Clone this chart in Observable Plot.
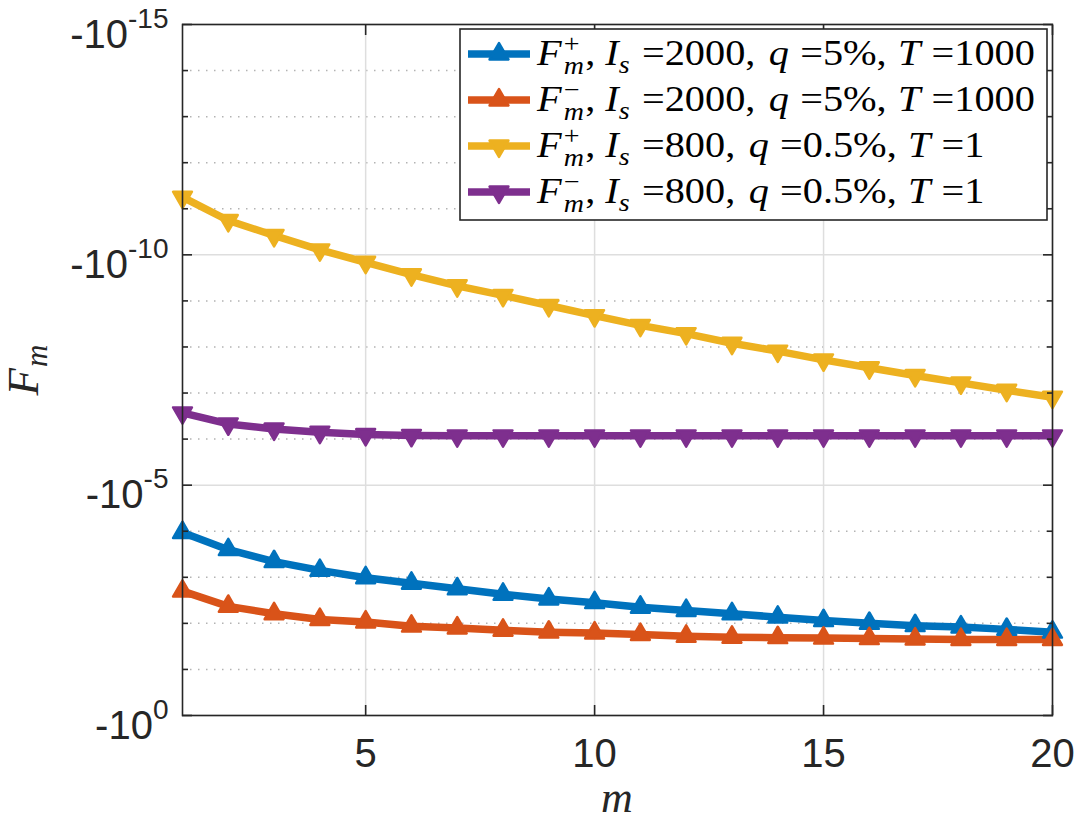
<!DOCTYPE html>
<html>
<head>
<meta charset="utf-8">
<script src="https://cdn.jsdelivr.net/npm/d3@7"></script>
<script src="https://cdn.jsdelivr.net/npm/@observablehq/plot@0.6"></script>
<style>
  html, body { margin: 0; padding: 0; background: #fff; }
  #chart svg { display: block; }
</style>
</head>
<body>
<div id="chart"></div>
<script>
// ---------- data ----------
const mValues = [1,2,3,4,5,6,7,8,9,10,11,12,13,14,15,16,17,18,19,20];

// F_m^+, I_s=2000, q=5%, T=1000
const FPlus2000 = [-1.07e-4,-2.51e-4,-4.57e-4,-7.08e-4,-1.02e-3,-1.35e-3,-1.78e-3,-2.34e-3,-2.95e-3,-3.55e-3,
                   -4.47e-3,-5.25e-3,-6.17e-3,-7.33e-3,-8.71e-3,-1.00e-2,-1.12e-2,-1.20e-2,-1.35e-2,-1.55e-2];
// F_m^-, I_s=2000, q=5%, T=1000
const FMinus2000 = [-2.00e-3,-4.27e-3,-6.17e-3,-8.22e-3,-9.33e-3,-1.15e-2,-1.26e-2,-1.41e-2,-1.55e-2,-1.62e-2,
                    -1.74e-2,-1.91e-2,-2.00e-2,-2.04e-2,-2.09e-2,-2.14e-2,-2.19e-2,-2.24e-2,-2.24e-2,-2.24e-2];
// F_m^+, I_s=800, q=0.5%, T=1
const FPlus800 = [-5.6e-12,-1.8e-11,-3.8e-11,-7.8e-11,-1.45e-10,-2.7e-10,-4.7e-10,-7.6e-10,-1.26e-9,-2.09e-9,
                  -3.39e-9,-5.13e-9,-8.32e-9,-1.23e-8,-1.91e-8,-2.82e-8,-4.17e-8,-6.03e-8,-8.71e-8,-1.23e-7];
// F_m^-, I_s=800, q=0.5%, T=1
const FMinus800 = [-2.69e-7,-4.68e-7,-6.03e-7,-7.08e-7,-7.94e-7,-8.32e-7,-8.5e-7,-8.5e-7,-8.5e-7,-8.5e-7,
                   -8.5e-7,-8.5e-7,-8.5e-7,-8.5e-7,-8.5e-7,-8.5e-7,-8.5e-7,-8.5e-7,-8.5e-7,-8.5e-7];

const xTicks = [5, 10, 15, 20];
const yMajorTicks = [1e-15, 1e-10, 1e-5, 1];
const yMinorTicks = [1e-14,1e-13,1e-12,1e-11,1e-9,1e-8,1e-7,1e-6,1e-4,1e-3,1e-2,1e-1];

const legendSign = ["+", "\u2212", "+", "\u2212"];
const legendIs = ["2000", "2000", "800", "800"];
const legendQ = ["5%", "5%", "0.5%", "0.5%"];
const legendT = ["1000", "1000", "1", "1"];

const seriesColors = ["#0072BD", "#D95319", "#EDB120", "#7E2F8E"];
const seriesValues = [FPlus2000, FMinus2000, FPlus800, FMinus800];

// ---------- symbols ----------
const sqrt3 = Math.sqrt(3);
const triangleDown = {
  draw(context, size) {
    const y = Math.sqrt(size / (sqrt3 * 3));
    context.moveTo(0, 2 * y);
    context.lineTo(-sqrt3 * y, -y);
    context.lineTo(sqrt3 * y, -y);
    context.closePath();
  }
};
const seriesSymbols = [d3.symbolTriangle, d3.symbolTriangle, triangleDown, triangleDown];

const series = seriesValues.map((vals, k) => ({
  key: k,
  color: seriesColors[k],
  symbol: seriesSymbols[k],
  rows: vals.map((F, i) => ({m: mValues[i], F, key: k}))
}));

const axisColor = "#262626";
const sansFont = "'Liberation Sans', Arial, Helvetica, sans-serif";
const serifFont = "'Liberation Serif', 'Times New Roman', serif";
const markerR = 7;

const plot = Plot.plot({
  width: 1076,
  height: 820,
  marginLeft: 182,
  marginRight: 24,
  marginTop: 24,
  marginBottom: 105,
  style: {fontFamily: sansFont, color: axisColor, background: "white", overflow: "visible"},
  x: {domain: [1, 20]},
  y: {type: "log", domain: [1e-15, 1], reverse: true},
  marks: [
    Plot.gridY(yMinorTicks, {stroke: "#b3b3b3", strokeOpacity: 1, strokeWidth: 1.5, strokeDasharray: "1.5,6.5"}),
    Plot.gridY(yMajorTicks, {stroke: "#dedede", strokeOpacity: 1, strokeWidth: 1.5}),
    Plot.gridX(xTicks, {stroke: "#dedede", strokeOpacity: 1, strokeWidth: 1.5}),
    ...series.map(s => Plot.line(s.rows, {x: "m", y: d => -d.F, stroke: s.color, strokeWidth: 7.5, strokeLinejoin: "round"})),
    ...series.map(s => Plot.dot(s.rows, {x: "m", y: d => -d.F, symbol: s.symbol, r: markerR, fill: s.color, stroke: s.color, strokeWidth: 2.5, strokeLinejoin: "round"})),
    Plot.frame({stroke: axisColor, strokeWidth: 1.6}),
    Plot.axisX(xTicks, {anchor: "bottom", tickSize: 0, tickPadding: 23, fontSize: 40, label: null, fill: axisColor}),
    Plot.axisX(xTicks, {anchor: "bottom", tickSize: -10, fill: "none", label: null, stroke: axisColor, strokeWidth: 1.6}),
    Plot.axisX(xTicks, {anchor: "top", tickSize: -10, fill: "none", label: null, stroke: axisColor, strokeWidth: 1.6}),
    Plot.axisY(yMajorTicks, {anchor: "left", tickSize: 0, tickPadding: 14, fontSize: 40, label: null, fill: axisColor,
                             tickFormat: d => String(Math.round(Math.log10(d)))}),
    Plot.axisY(yMajorTicks, {anchor: "left", tickSize: -10, fill: "none", label: null, stroke: axisColor, strokeWidth: 1.6}),
    Plot.axisY(yMajorTicks, {anchor: "right", tickSize: -10, fill: "none", label: null, stroke: axisColor, strokeWidth: 1.6}),
    Plot.axisY(yMinorTicks, {anchor: "left", tickSize: -6, fill: "none", label: null, stroke: axisColor, strokeWidth: 1.6}),
    Plot.axisY(yMinorTicks, {anchor: "right", tickSize: -6, fill: "none", label: null, stroke: axisColor, strokeWidth: 1.6})
  ]
});

document.getElementById("chart").appendChild(plot);
const svg = d3.select(plot);

// ---------- y tick labels as -10^k with real superscripts ----------
svg.selectAll('g[aria-label="y-axis tick label"] text').each(function() {
  const exp = this.textContent;
  const t = d3.select(this);
  t.text(null).attr("y", 23);
  t.append("tspan").text("-10");
  t.append("tspan").attr("font-size", 28).attr("dy", -20).text(exp);
});

// ---------- axis labels ----------
svg.append("text")
  .attr("x", 617).attr("y", 812)
  .attr("text-anchor", "middle")
  .attr("font-family", serifFont).attr("font-style", "italic").attr("font-size", 44)
  .attr("fill", axisColor)
  .text("m");

const yl = svg.append("text")
  .attr("transform", "translate(38,370) rotate(-90)")
  .attr("text-anchor", "middle")
  .attr("font-family", serifFont).attr("font-size", 45)
  .attr("fill", axisColor);
yl.append("tspan").attr("font-style", "italic").text("F");
yl.append("tspan").attr("font-style", "italic").attr("font-size", 31).attr("dy", 9).attr("dx", 1).text("m");

// ---------- legend ----------
const lg = svg.append("g").attr("class", "legend").attr("text-anchor", "start");
lg.append("rect")
  .attr("x", 460).attr("y", 29).attr("width", 587).attr("height", 191)
  .attr("fill", "white").attr("stroke", axisColor).attr("stroke-width", 1.6);

const rowY = [54, 100, 146, 192];
const textX = 537;
const texts = [];
series.forEach((s, k) => {
  const y = rowY[k];
  lg.append("line").attr("x1", 468).attr("x2", 530).attr("y1", y).attr("y2", y)
    .attr("stroke", s.color).attr("stroke-width", 7.5);
  lg.append("path")
    .attr("d", d3.symbol(s.symbol, markerR * markerR * Math.PI)())
    .attr("transform", `translate(499,${y})`)
    .attr("fill", s.color).attr("stroke", s.color).attr("stroke-width", 2.5).attr("stroke-linejoin", "round");

  const t = lg.append("text")
    .attr("x", textX).attr("y", y + 11)
    .attr("text-anchor", "start")
    .attr("font-family", serifFont).attr("font-size", 36).attr("fill", "#000");
  const ts = (txt, o = {}) => {
    const e = t.append("tspan").text(txt);
    if (o.i) e.attr("font-style", "italic");
    if (o.fs) e.attr("font-size", o.fs);
    if (o.dx != null) e.attr("dx", o.dx);
    if (o.dy != null) e.attr("dy", o.dy);
    return e;
  };
  ts("F", {i: 1});
  const sup = ts(legendSign[k], {fs: 25, dy: -13, dx: 2});
  const supW = sup.node().getComputedTextLength();
  ts("m", {i: 1, fs: 25, dy: 22, dx: -supW});
  ts(",", {dy: -9, dx: 1});
  ts("I", {i: 1, dx: 9});
  ts("s", {i: 1, fs: 25, dy: 8});
  ts("=" + legendIs[k] + ",", {dy: -8, dx: 11});
  ts("q", {i: 1, dx: 12});
  ts("=" + legendQ[k] + ",", {dx: 10});
  ts("T", {i: 1, dx: 10});
  ts("=" + legendT[k], {dx: 10});
  texts.push(t);
});
// stretch horizontally to mimic the wider TeX glyphs (row 1 spans 537 -> 1035)
const b0 = texts[0].node().getBBox();
const kx = (1035 - textX) / (b0.x + b0.width - textX);
texts.forEach(t => t.attr("transform", `translate(${textX},0) scale(${kx},1) translate(${-textX},0)`));
</script>
</body>
</html>
